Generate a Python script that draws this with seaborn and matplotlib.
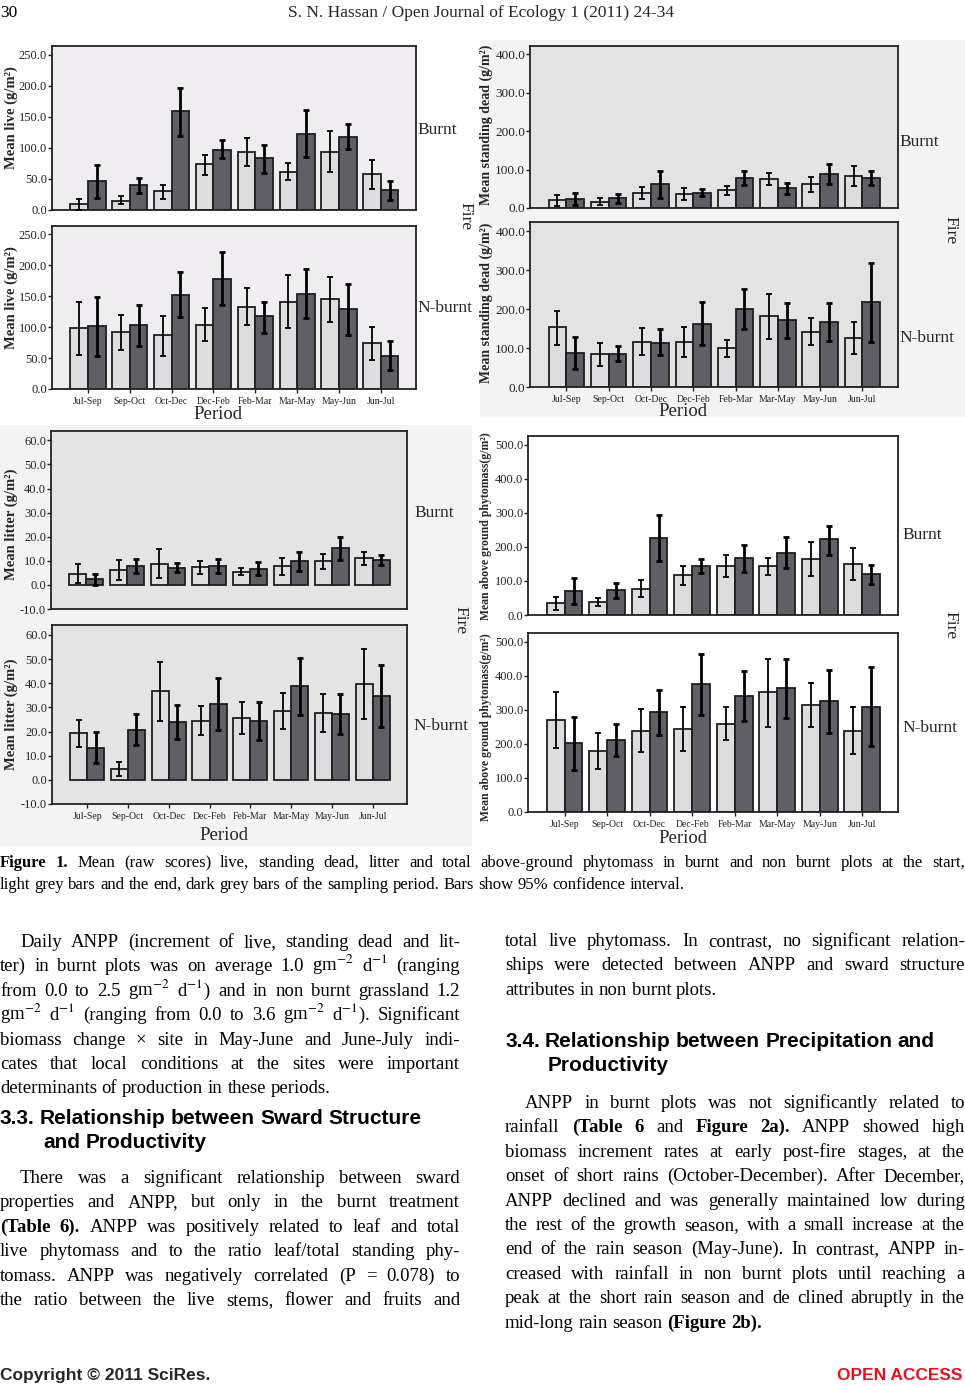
import numpy as np
import pandas as pd
import matplotlib
matplotlib.use('Agg')
import matplotlib.pyplot as plt
import seaborn as sns
from matplotlib.patches import Rectangle

# ---------------------------------------------------------------
# data : mean and 95% CI (low, high)
# ---------------------------------------------------------------
PERIODS = ['Jul-Sep', 'Sep-Oct', 'Oct-Dec', 'Dec-Feb', 'Feb-Mar', 'Mar-May', 'May-Jun', 'Jun-Jul']

live_b_start = [9, 15, 30, 74, 94, 61, 94, 58]
live_b_start_ci = [(0, 17), (9, 23), (18, 40), (56, 89), (71, 116), (48, 75), (61, 127), (34, 81)]
live_b_end = [46, 40, 159, 97, 83, 123, 118, 32]
live_b_end_ci = [(20, 72), (28, 52), (119, 196), (83, 112), (60, 105), (85, 161), (98, 138), (16, 46)]

live_n_start = [98, 92, 87, 103, 133, 141, 145, 74]
live_n_start_ci = [(55, 141), (63, 119), (54, 118), (77, 130), (104, 163), (98, 184), (108, 181), (46, 100)]
live_n_end = [101, 104, 152, 178, 117, 154, 129, 54]
live_n_end_ci = [(54, 148), (70, 136), (116, 188), (135, 221), (91, 141), (115, 194), (87, 170), (31, 78)]

dead_b_start = [20, 16, 39, 36, 46, 76, 62, 82]
dead_b_start_ci = [(5, 33), (9, 25), (24, 55), (20, 51), (35, 57), (59, 92), (42, 81), (56, 108)]
dead_b_end = [23, 25, 62, 39, 79, 52, 89, 78]
dead_b_end_ci = [(7, 39), (13, 36), (27, 95), (30, 49), (61, 96), (36, 65), (63, 114), (61, 95)]

dead_n_start = [153, 84, 115, 115, 100, 182, 142, 126]
dead_n_start_ci = [(109, 196), (55, 114), (82, 151), (78, 154), (77, 121), (124, 239), (107, 177), (86, 166)]
dead_n_end = [87, 86, 114, 163, 200, 171, 168, 219]
dead_n_end_ci = [(47, 128), (67, 106), (82, 148), (107, 218), (149, 252), (126, 217), (119, 217), (116, 319)]

litter_b_start = [4.7, 6.3, 8.8, 7.3, 5.5, 7.7, 9.8, 11.0]
litter_b_start_ci = [(0.6, 8.7), (2.2, 10.5), (2.9, 14.8), (4.6, 10.0), (4.0, 7.0), (4.3, 11.2), (6.8, 12.7), (8.4, 13.7)]
litter_b_end = [2.5, 7.9, 7.2, 7.9, 6.6, 9.8, 15.3, 10.3]
litter_b_end_ci = [(0.0, 4.7), (5.0, 10.6), (5.2, 9.0), (4.8, 10.8), (4.0, 9.4), (5.8, 13.7), (10.5, 19.9), (8.3, 12.3)]

litter_n_start = [19.4, 4.3, 36.6, 24.5, 25.7, 28.5, 27.5, 39.5]
litter_n_start_ci = [(13.5, 24.9), (1.4, 7.3), (24.3, 48.9), (18.5, 30.4), (19.1, 32.2), (21.0, 35.8), (19.6, 35.4), (25.0, 54.2)]
litter_n_end = [13.1, 20.7, 23.9, 31.5, 24.3, 38.7, 27.1, 34.7]
litter_n_end_ci = [(7.0, 19.6), (14.4, 27.2), (16.9, 31.0), (20.5, 42.3), (16.3, 32.3), (26.8, 50.3), (18.8, 35.4), (21.8, 47.6)]

total_b_start = [34, 38, 77, 116, 144, 144, 164, 149]
total_b_start_ci = [(14, 53), (26, 51), (52, 103), (87, 145), (112, 175), (118, 168), (114, 215), (102, 196)]
total_b_end = [71, 72, 226, 145, 166, 183, 222, 119]
total_b_end_ci = [(33, 109), (49, 94), (157, 293), (122, 165), (126, 205), (138, 228), (177, 262), (91, 146)]

total_n_start = [270, 180, 239, 243, 259, 351, 315, 237]
total_n_start_ci = [(187, 353), (126, 233), (176, 302), (178, 307), (210, 307), (250, 450), (248, 378), (169, 309)]
total_n_end = [201, 210, 292, 375, 340, 364, 325, 308]
total_n_end_ci = [(123, 280), (164, 257), (225, 359), (285, 462), (266, 415), (277, 449), (232, 417), (193, 424)]

# ---------------------------------------------------------------
# page set-up (pixel coordinates of the 965 x 1386 page)
# ---------------------------------------------------------------
W, H, DPI = 965, 1386, 100
LIGHT = '#dddce1'
DARK = '#5f5e66'
SERIF = ['Liberation Serif', 'DejaVu Serif']
SANS = ['Liberation Sans', 'DejaVu Sans']

sns.set_theme(style='white')
plt.rcParams['font.family'] = SERIF
plt.rcParams['mathtext.fontset'] = 'stix'

fig = plt.figure(figsize=(W / DPI, H / DPI), dpi=DPI)
fig.patch.set_facecolor('white')


def fx(px):
    return px / W


def fy(py):
    return 1 - py / H


# light grey backdrops behind two of the figure blocks
for x0, y0, x1, y1 in [(480, 40, 965, 417), (0, 425, 472, 846)]:
    fig.add_artist(Rectangle((fx(x0), fy(y1)), (x1 - x0) / W, (y1 - y0) / H,
                             transform=fig.transFigure, facecolor='#f3f3f3',
                             edgecolor='none', zorder=-5))


def draw_panel(box, start, start_ci, end, end_ci, ylim, yticks, face, xlabels, tsize=9):
    l, t, r, b = box
    ax = fig.add_axes([fx(l), fy(b), (r - l) / W, (b - t) / H])
    df = pd.DataFrame({
        'period': PERIODS * 2,
        'phase': ['start'] * len(PERIODS) + ['end'] * len(PERIODS),
        'value': list(start) + list(end),
    })
    sns.barplot(data=df, x='period', y='value', hue='phase', order=PERIODS,
                hue_order=['start', 'end'], palette=[LIGHT, DARK], width=0.84,
                errorbar=None, edgecolor='#1e1e1e', linewidth=1.3,
                legend=False, ax=ax, zorder=2)
    # 95% confidence intervals
    for cont, mean, ci, lw in zip(ax.containers, [start, end], [start_ci, end_ci], [1.3, 2.0]):
        xs = [p.get_x() + p.get_width() / 2 for p in cont]
        lo = [m - c[0] for m, c in zip(mean, ci)]
        hi = [c[1] - m for m, c in zip(mean, ci)]
        ax.errorbar(xs, mean, yerr=[lo, hi], fmt='none', ecolor='black',
                    elinewidth=lw, capsize=2.5, capthick=lw, zorder=3)

    ax.set_facecolor(face)
    ax.set_xlim(-0.86, len(PERIODS) - 1 + 0.84)
    ax.set_ylim(*ylim)
    ax.set_yticks(yticks)
    ax.set_yticklabels([f'{v:.1f}' for v in yticks], fontsize=tsize, family=SERIF)
    ax.tick_params(axis='y', direction='out', length=3, width=1, pad=0.5, left=True, colors='#222')
    ax.set_xlabel('')
    ax.set_ylabel('')
    if xlabels:
        ax.set_xticks(range(len(PERIODS)))
        ax.set_xticklabels(PERIODS, fontsize=7, family=SERIF)
        ax.tick_params(axis='x', direction='out', length=3, width=1, pad=3, bottom=True, colors='#222')
    else:
        ax.set_xticks([])
    for s in ax.spines.values():
        s.set_visible(True)
        s.set_color('#222222')
        s.set_linewidth(1.3)
    return ax


# ----------------------- live -----------------------
draw_panel((52, 46, 416, 210), live_b_start, live_b_start_ci, live_b_end, live_b_end_ci,
           (0, 264), [0, 50, 100, 150, 200, 250], '#efedef', False)
draw_panel((52, 226, 416, 389), live_n_start, live_n_start_ci, live_n_end, live_n_end_ci,
           (0, 263), [0, 50, 100, 150, 200, 250], '#efedef', True)
# ------------------- standing dead -------------------
draw_panel((530, 46, 898, 208), dead_b_start, dead_b_start_ci, dead_b_end, dead_b_end_ci,
           (0, 421), [0, 100, 200, 300, 400], '#e3e3e3', False, tsize=9.5)
draw_panel((530, 222, 898, 387), dead_n_start, dead_n_start_ci, dead_n_end, dead_n_end_ci,
           (0, 424), [0, 100, 200, 300, 400], '#e3e3e3', True, tsize=9.5)
# ----------------------- litter -----------------------
draw_panel((51, 431, 407, 609), litter_b_start, litter_b_start_ci, litter_b_end, litter_b_end_ci,
           (-10, 63.9), [-10, 0, 10, 20, 30, 40, 50, 60], '#e4e4e4', False)
draw_panel((52, 625, 407, 804), litter_n_start, litter_n_start_ci, litter_n_end, litter_n_end_ci,
           (-10, 64.1), [-10, 0, 10, 20, 30, 40, 50, 60], '#e4e4e4', True)
# --------------- total above-ground ---------------
draw_panel((528, 436, 898, 615), total_b_start, total_b_start_ci, total_b_end, total_b_end_ci,
           (0, 525), [0, 100, 200, 300, 400, 500], '#ffffff', False)
draw_panel((528, 633, 898, 812), total_n_start, total_n_start_ci, total_n_end, total_n_end_ci,
           (0, 525), [0, 100, 200, 300, 400, 500], '#ffffff', True)

# y labels
for x, y, txt, size in [(11, 118, 'Mean live (g/m²)', 10.5), (11, 298, 'Mean live (g/m²)', 10.5),
                        (486, 125, 'Mean standing dead (g/m²)', 10),
                        (486, 303, 'Mean standing dead (g/m²)', 10),
                        (11, 524, 'Mean litter (g/m²)', 10.5), (11, 714, 'Mean litter (g/m²)', 10.5),
                        (486, 526, 'Mean above ground phytomass(g/m²)', 8.5),
                        (486, 727, 'Mean above ground phytomass(g/m²)', 8.5)]:
    fig.text(fx(x), fy(y), txt, rotation=90, ha='center', va='center',
             fontsize=size, weight='bold', family=SERIF)

# treatment labels
for x, y, txt in [(417, 130, 'Burnt'), (417, 308, 'N-burnt'), (899, 142, 'Burnt'),
                  (899, 338, 'N-burnt'), (414, 513, 'Burnt'), (413, 726, 'N-burnt'),
                  (902, 535, 'Burnt'), (902, 728, 'N-burnt')]:
    fig.text(fx(x), fy(y), txt, ha='left', va='center', fontsize=12.5, family=SERIF)
for x, y in [(465, 216), (950, 230), (460, 620), (950, 625)]:
    fig.text(fx(x), fy(y), 'Fire', rotation=270, ha='center', va='center',
             fontsize=12.5, family=SERIF)
for x, y in [(218, 415), (683, 411), (224, 835), (683, 839)]:
    fig.text(fx(x), fy(y), 'Period', ha='center', va='center', fontsize=13.5, family=SERIF)

# ---------------------------------------------------------------
# page text
# ---------------------------------------------------------------
renderer = fig.canvas.get_renderer()


def text_line(x0, x1, y, line, size, family=SERIF, justify=True, weight='normal', color='black'):
    """Lay out one line word by word; '*' marks a bold word."""
    arts = []
    for tok in line.split(' '):
        bold = tok.startswith('*')
        s = tok[1:] if bold else tok
        arts.append(fig.text(0, fy(y), s, fontsize=size, family=family, color=color,
                             weight='bold' if (bold or weight == 'bold') else 'normal',
                             ha='left', va='baseline'))
    ws = [a.get_window_extent(renderer).width for a in arts]
    gap = size * DPI / 72 * 0.25
    if justify and len(arts) > 1:
        gap = max((x1 - x0 - sum(ws)) / (len(arts) - 1), gap * 0.5)
    x = x0
    for a, w in zip(arts, ws):
        a.set_x(fx(x))
        x += w + gap


def paragraph(x0, x1, ys, lines, size=13.5, indent=0, last_justified=False):
    for i, (y, ln) in enumerate(zip(ys, lines)):
        last = i == len(lines) - 1 and not last_justified
        text_line(x0 + (indent if i == 0 else 0), x1, y, ln, size, justify=not last)


# header
text_line(0, 60, 17, '30', 12.5, justify=False)
fig.text(fx(481), fy(17), 'S. N. Hassan / Open Journal of Ecology 1 (2011) 24-34',
         ha='center', va='baseline', fontsize=12.5, family=SERIF)

# caption
cap1 = ('*Figure *1. Mean (raw scores) live, standing dead, litter and total above-ground '
        'phytomass in burnt and non burnt plots at the start,')
cap2 = 'light grey bars and the end, dark grey bars of the sampling period. Bars show 95% confidence interval.'
text_line(0, 965, 867, cap1, 12)
text_line(0, 965, 889, cap2, 12, justify=False)

LEFT_P1 = [
    'Daily ANPP (increment of live, standing dead and lit-',
    'ter) in burnt plots was on average 1.0 gm$^{-2}$ d$^{-1}$ (ranging',
    'from 0.0 to 2.5 gm$^{-2}$ d$^{-1}$) and in non burnt grassland 1.2',
    'gm$^{-2}$ d$^{-1}$ (ranging from 0.0 to 3.6 gm$^{-2}$ d$^{-1}$). Significant',
    'biomass change × site in May-June and June-July indi-',
    'cates that local conditions at the sites were important',
    'determinants of production in these periods.',
]
LEFT_P2 = [
    'There was a significant relationship between sward',
    'properties and ANPP, but only in the burnt treatment',
    '*(Table *6). ANPP was positively related to leaf and total',
    'live phytomass and to the ratio leaf/total standing phy-',
    'tomass. ANPP was negatively correlated (P = 0.078) to',
    'the ratio between the live stems, flower and fruits and',
]
RIGHT_P1 = [
    'total live phytomass. In contrast, no significant relation-',
    'ships were detected between ANPP and sward structure',
    'attributes in non burnt plots.',
]
RIGHT_P2 = [
    'ANPP in burnt plots was not significantly related to',
    'rainfall *(Table *6 and *Figure *2a). ANPP showed high',
    'biomass increment rates at early post-fire stages, at the',
    'onset of short rains (October-December). After December,',
    'ANPP declined and was generally maintained low during',
    'the rest of the growth season, with a small increase at the',
    'end of the rain season (May-June). In contrast, ANPP in-',
    'creased with rainfall in non burnt plots until reaching a',
    'peak at the short rain season and de clined abruptly in the',
    'mid-long rain season *(Figure *2b).',
]

LINE = 24.4
paragraph(0, 460, [947 + i * LINE for i in range(7)], LEFT_P1, indent=20)
text_line(0, 460, 1124, '3.3. Relationship between Sward Structure', 15, family=SANS,
          justify=False, weight='bold')
text_line(43, 460, 1148, 'and Productivity', 15, family=SANS, justify=False, weight='bold')
paragraph(0, 460, [1183 + i * LINE for i in range(6)], LEFT_P2, indent=20, last_justified=True)

paragraph(505, 965, [946 + i * LINE for i in range(3)], RIGHT_P1)
text_line(505, 965, 1047, '3.4. Relationship between Precipitation and', 15, family=SANS,
          justify=False, weight='bold')
text_line(548, 965, 1071, 'Productivity', 15, family=SANS, justify=False, weight='bold')
paragraph(505, 965, [1108 + i * LINE for i in range(10)], RIGHT_P2, indent=20)

# footer
fig.text(fx(0), fy(1380), 'Copyright © 2011 SciRes.', ha='left', va='baseline',
         fontsize=12.5, weight='bold', family=SANS)
fig.text(fx(962), fy(1380), 'OPEN ACCESS', ha='right', va='baseline',
         fontsize=12.5, weight='bold', family=SANS, color='#e8101a')

fig.savefig('out.png', dpi=DPI, facecolor='white')
